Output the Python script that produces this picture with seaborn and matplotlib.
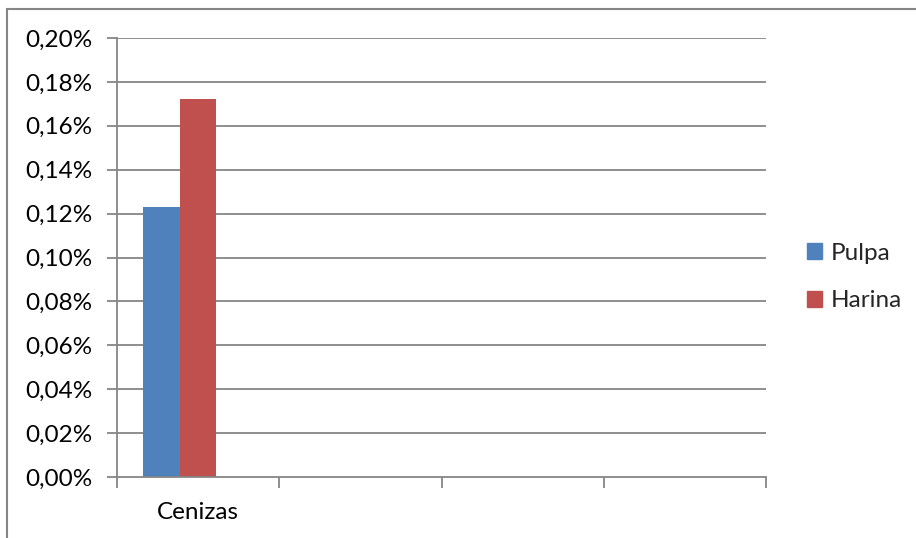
import matplotlib
matplotlib.use("Agg")
import matplotlib.pyplot as plt
import matplotlib.patches as mpatches
import matplotlib.ticker as mticker
import numpy as np
import pandas as pd
import seaborn as sns

# Data (percent values)
categories = ["Cenizas", " ", "  ", "   "]
series = ["Pulpa", "Harina", "   "]
pulpa = [0.123, np.nan, np.nan, np.nan]
harina = [0.172, np.nan, np.nan, np.nan]
blank = [np.nan, np.nan, np.nan, np.nan]
colors = ["#4F81BD", "#C0504D", "#9BBB59"]
yticks = [0.00, 0.02, 0.04, 0.06, 0.08, 0.10, 0.12, 0.14, 0.16, 0.18, 0.20]

rows = []
for name, vals in zip(series, [pulpa, harina, blank]):
    for cat, v in zip(categories, vals):
        rows.append({"cat": cat, "serie": name, "valor": v})
df = pd.DataFrame(rows)

sns.set_theme(style="white")
plt.rcParams["font.family"] = ["Lato", "DejaVu Sans"]

W, H = 916, 538
fig = plt.figure(figsize=(W / 100, H / 100), dpi=100)
ax = fig.add_axes([117 / W, 1 - 477 / H, (766 - 117) / W, (477 - 38) / H])

grid_c = "#868686"
for y in yticks[1:]:
    ax.axhline(y, color=grid_c, lw=1.3, zorder=0)

sns.barplot(data=df, x="cat", y="valor", hue="serie", order=categories,
            hue_order=series, palette=colors, width=0.676, dodge=True,
            saturation=1, legend=False, ax=ax, zorder=2, linewidth=0)

ax.set_xlim(-0.5, len(categories) - 0.5)
ax.set_ylim(0, 0.20)
ax.set_xlabel("")
ax.set_ylabel("")

fs = 17.5
ax.set_yticks(yticks)
ax.yaxis.set_major_formatter(mticker.FuncFormatter(lambda v, p: f"{v:.2f}%".replace(".", ",")))
ax.tick_params(axis="y", length=7, width=1.3, color=grid_c, labelsize=fs, pad=11,
               left=True, labelcolor="black")

# category boundaries carry the tick marks, labels sit at the centres
ax.set_xticks(np.arange(-0.5, len(categories)), [""] * (len(categories) + 1))
ax.set_xticks(range(len(categories)), categories, minor=True)
ax.tick_params(axis="x", which="major", length=8, width=1.3, color=grid_c, bottom=True)
ax.tick_params(axis="x", which="minor", length=0, labelsize=fs, pad=18, labelcolor="black")

for side in ["top", "right"]:
    ax.spines[side].set_visible(False)
for side in ["left", "bottom"]:
    ax.spines[side].set_color(grid_c)
    ax.spines[side].set_linewidth(1.3)

handles = [mpatches.Patch(color=colors[0], label=series[0]),
           mpatches.Patch(color=colors[1], label=series[1])]
fig.legend(handles=handles, loc="center left", bbox_to_anchor=(797 / W, 1 - 277 / H),
           frameon=False, fontsize=fs, handlelength=0.62, handleheight=0.62,
           handletextpad=0.35, labelspacing=1.1, borderaxespad=0)

# outer chart border
fig.patches.append(mpatches.Rectangle((7 / W, -0.05), 1.1, 1 - 9 / H + 0.05,
                                      transform=fig.transFigure, fill=False,
                                      edgecolor=grid_c, lw=1.5, zorder=-1))

fig.savefig("out.png", dpi=100)
